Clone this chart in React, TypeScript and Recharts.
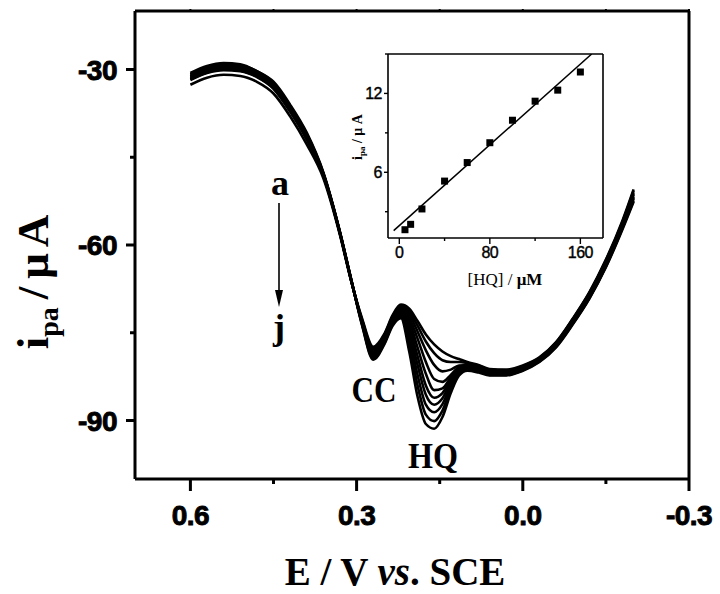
import React from 'react';
import { LineChart, Line, XAxis, YAxis, ComposedChart } from 'recharts';

// potential (V vs. SCE), shared by all DPV curves
const potential = [
  0.6, 0.57, 0.54, 0.51, 0.48, 0.45, 0.42, 0.39, 0.36, 0.33, 0.31, 0.29, 0.27, 0.25, 0.235, 0.22,
  0.205, 0.19, 0.175, 0.16, 0.145, 0.13, 0.115, 0.1, 0.08, 0.06, 0.03, 0.0, -0.03, -0.06, -0.09,
  -0.12, -0.15, -0.18, -0.2,
];

// i_pa (µA) for curves a..j
const curveA = [
  -32.6, -31.4, -30.9, -31.1, -32.1, -34.1, -38.0, -42.8, -48.6, -58.3, -66.1, -72.6, -77.4, -75.2, -72.0, -70.2,
  -70.9, -73.0, -75.3, -77.0, -78.2, -79.0, -79.5, -80.0, -80.5, -81.2, -81.3, -80.6, -79.2, -76.6, -72.6,
  -68.1, -62.5, -55.8, -50.5,
];
const curveB = [
  -31.8, -30.6, -30.1, -30.3, -31.3, -33.3, -37.2, -42.0, -48.2, -58.1, -66.0, -72.8, -77.7, -75.4, -72.2, -70.4,
  -71.3, -73.8, -76.5, -78.5, -79.7, -80.0, -80.0, -80.2, -80.6, -81.3, -81.4, -80.7, -79.3, -76.7, -72.7,
  -68.2, -62.6, -56.0, -50.7,
];
const curveC = [
  -31.7, -30.5, -30.0, -30.2, -31.2, -33.2, -37.1, -41.9, -48.1, -58.1, -66.0, -73.0, -77.9, -75.6, -72.4, -70.6,
  -71.8, -74.8, -78.0, -80.5, -81.6, -81.3, -80.6, -80.5, -80.8, -81.4, -81.5, -80.8, -79.4, -76.8, -72.8,
  -68.3, -62.8, -56.1, -51.0,
];
const curveD = [
  -31.5, -30.3, -29.8, -30.0, -31.0, -33.0, -36.9, -41.7, -48.1, -58.0, -66.0, -73.1, -78.2, -75.8, -72.6, -70.9,
  -72.4, -76.0, -80.0, -82.9, -83.4, -82.2, -80.9, -80.7, -81.0, -81.6, -81.6, -80.9, -79.5, -76.9, -72.9,
  -68.5, -62.9, -56.3, -51.2,
];
const curveE = [
  -31.4, -30.2, -29.7, -29.9, -30.9, -32.9, -36.8, -41.6, -48.0, -58.0, -65.9, -73.2, -78.4, -76.0, -72.8, -71.1,
  -73.0, -77.5, -82.0, -84.8, -84.5, -82.6, -81.1, -80.9, -81.1, -81.7, -81.7, -81.0, -79.6, -77.0, -73.0,
  -68.6, -63.1, -56.5, -51.4,
];
const curveF = [
  -31.2, -30.0, -29.5, -29.7, -30.7, -32.7, -36.6, -41.4, -47.9, -57.9, -65.9, -73.3, -78.7, -76.2, -73.0, -71.4,
  -73.8, -79.0, -84.0, -86.1, -85.3, -83.0, -81.4, -81.0, -81.2, -81.8, -81.9, -81.1, -79.6, -77.1, -73.2,
  -68.7, -63.2, -56.6, -51.7,
];
const curveG = [
  -31.1, -29.9, -29.4, -29.6, -30.6, -32.6, -36.5, -41.3, -47.8, -57.9, -65.9, -73.4, -78.9, -76.4, -73.2, -71.6,
  -74.6, -80.5, -85.6, -87.3, -86.2, -83.4, -81.6, -81.1, -81.3, -81.9, -82.0, -81.2, -79.7, -77.2, -73.3,
  -68.8, -63.4, -56.8, -51.9,
];
const curveH = [
  -30.9, -29.7, -29.2, -29.4, -30.4, -32.4, -36.3, -41.1, -47.8, -57.9, -65.8, -73.5, -79.1, -76.6, -73.4, -71.9,
  -75.6, -82.2, -87.3, -88.6, -87.2, -84.0, -81.8, -81.2, -81.5, -82.1, -82.1, -81.3, -79.8, -77.3, -73.4,
  -69.0, -63.5, -57.0, -52.1,
];
const curveI = [
  -30.8, -29.6, -29.1, -29.3, -30.3, -32.3, -36.2, -41.0, -47.7, -57.8, -65.8, -73.6, -79.4, -76.8, -73.6, -72.2,
  -76.8, -84.0, -89.0, -90.1, -88.3, -84.6, -82.0, -81.3, -81.6, -82.2, -82.2, -81.4, -79.9, -77.4, -73.5,
  -69.1, -63.7, -57.1, -52.4,
];
const curveJ = [
  -30.6, -29.4, -28.9, -29.1, -30.3, -32.1, -36.0, -40.8, -47.6, -57.8, -65.8, -73.8, -79.6, -77.0, -73.8, -72.5,
  -78.2, -85.9, -90.6, -91.4, -89.4, -85.3, -82.3, -81.5, -81.8, -82.3, -82.3, -81.5, -80.0, -77.5, -73.6,
  -69.2, -63.8, -57.3, -52.6,
];

const curveKeys = ['a', 'b', 'c', 'd', 'e', 'f', 'g', 'h', 'i', 'j'];
const curves = [curveA, curveB, curveC, curveD, curveE, curveF, curveG, curveH, curveI, curveJ];

// inset: calibration of HQ
const hqConc = [5, 10, 20, 40, 60, 80, 100, 120, 140, 160];
const hqCurrent = [1.63, 2.04, 3.21, 5.33, 6.74, 8.25, 9.96, 11.41, 12.25, 13.63];
const fitConc = [-5, 170];
const fitCurrent = [1.56, 15.0];

const mainXTicks = [0.6, 0.45, 0.3, 0.15, 0, -0.15, -0.3];
const mainXMajor = [0.6, 0.3, 0, -0.3];
const mainYTicks = [-90, -75, -60, -45, -30];
const mainYMajor = [-90, -60, -30];
const insetXTicks = [0, 40, 80, 120, 160];
const insetXMajor = [0, 80, 160];
const insetYTicks = [3, 6, 9, 12, 15];
const insetYMajor = [6, 12];

const W = 720;
const H = 594;
const SANS = '"Liberation Sans", Arial, sans-serif';
const SERIF = '"Liberation Serif", "Times New Roman", serif';

const mainData = potential.map((E, i) => {
  const row: Record<string, number> = { E };
  curveKeys.forEach((k, j) => {
    row[k] = curves[j][i];
  });
  return row;
});
const insetPoints = hqConc.map((x, i) => ({ x, y: hqCurrent[i] }));
const insetFit = fitConc.map((x, i) => ({ x, y: fitCurrent[i] }));

const isMajor = (v: number, majors: number[]) => majors.some((m) => Math.abs(m - v) < 1e-9);

type TickOpts = {
  side: 'bottom' | 'left' | 'top' | 'right';
  majors: number[];
  majorLen: number;
  minorLen: number;
  labels?: boolean;
  offset?: number;
  fontSize?: number;
  fontWeight?: string | number;
  textStroke?: number;
  format?: (v: number) => string;
  width: number;
};

// draws tick line (major/minor length) and label; axis has tickSize=0 so x/y sit on the axis line
function makeTick(o: TickOpts) {
  return (props: any) => {
    const { x, y, payload } = props;
    const v = payload.value;
    const major = isMajor(v, o.majors);
    const len = major ? o.majorLen : o.minorLen;
    const label = o.format ? o.format(v) : String(v);
    let line;
    let text = null;
    if (o.side === 'bottom') {
      line = <line x1={x} y1={y} x2={x} y2={y + len} />;
      if (o.labels && major)
        text = (
          <text x={x} y={y + (o.offset || 0)} textAnchor="middle">
            {label}
          </text>
        );
    } else if (o.side === 'top') {
      line = <line x1={x} y1={y} x2={x} y2={y - len} />;
    } else if (o.side === 'left') {
      line = <line x1={x - len} y1={y} x2={x} y2={y} />;
      if (o.labels && major)
        text = (
          <text x={x - (o.offset || 0)} y={y + (o.fontSize || 0) * 0.36} textAnchor="end">
            {label}
          </text>
        );
    } else {
      line = <line x1={x} y1={y} x2={x + len} y2={y} />;
    }
    const ts = o.textStroke || 0;
    return (
      <g stroke="#000" strokeWidth={o.width}>
        {line}
        {text && (
          <g
            stroke={ts ? '#000' : 'none'}
            strokeWidth={ts}
            fill="#000"
            fontFamily={SANS}
            fontSize={o.fontSize}
            fontWeight={o.fontWeight}
            letterSpacing={-0.5}
          >
            {text}
          </g>
        )}
      </g>
    );
  };
}

const SquareDot = (props: any) => {
  const { cx, cy } = props;
  if (cx == null || cy == null) return null;
  return <rect x={cx - 3.5} y={cy - 3.5} width={7} height={7} fill="#000" />;
};

function MainChart() {
  const axisLine = { stroke: '#000', strokeWidth: 3 };
  return (
    <LineChart
      width={W}
      height={H}
      data={mainData}
      margin={{ top: 10, right: 30, bottom: 114, left: 134 }}
    >
      <XAxis
        dataKey="E"
        type="number"
        domain={[-0.3, 0.7]}
        reversed
        ticks={mainXTicks}
        interval={0}
        height={1}
        tickSize={0}
        tickMargin={0}
        tickLine={false}
        axisLine={axisLine}
        tick={makeTick({
          side: 'bottom', majors: mainXMajor, majorLen: 12, minorLen: 5, labels: true,
          offset: 46, fontSize: 28, fontWeight: 700, textStroke: 0.9, format: (v) => v.toFixed(1), width: 3,
        })}
      />
      <XAxis
        xAxisId="top"
        dataKey="E"
        type="number"
        orientation="top"
        domain={[-0.3, 0.7]}
        reversed
        ticks={mainXTicks}
        interval={0}
        height={1}
        tickSize={0}
        tickMargin={0}
        tickLine={false}
        axisLine={axisLine}
        tick={makeTick({ side: 'top', majors: mainXMajor, majorLen: 2, minorLen: 2, width: 2 })}
      />
      <YAxis
        type="number"
        domain={[-100, -20]}
        ticks={mainYTicks}
        interval={0}
        width={1}
        tickSize={0}
        tickMargin={0}
        tickLine={false}
        axisLine={axisLine}
        tick={makeTick({
          side: 'left', majors: mainYMajor, majorLen: 9, minorLen: 5, labels: true,
          offset: 18, fontSize: 28, fontWeight: 700, textStroke: 0.9, width: 3,
        })}
      />
      <YAxis
        yAxisId="right"
        orientation="right"
        type="number"
        domain={[-100, -20]}
        ticks={mainYTicks}
        interval={0}
        width={1}
        tickSize={0}
        tickMargin={0}
        tickLine={false}
        axisLine={axisLine}
        tick={makeTick({ side: 'right', majors: mainYMajor, majorLen: 2, minorLen: 2, width: 2 })}
      />
      {curveKeys.map((k) => (
        <Line
          key={k}
          dataKey={k}
          type="monotone"
          stroke="#000"
          strokeWidth={2.6}
          dot={false}
          isAnimationActive={false}
        />
      ))}
    </LineChart>
  );
}

function InsetChart() {
  const axisLine = { stroke: '#000', strokeWidth: 1.6 };
  return (
    <ComposedChart width={W} height={H} margin={{ top: 53, right: 116, bottom: 355, left: 387 }}>
      <XAxis
        dataKey="x"
        type="number"
        domain={[-10, 180]}
        ticks={insetXTicks}
        interval={0}
        height={1}
        tickSize={0}
        tickMargin={0}
        tickLine={false}
        axisLine={axisLine}
        allowDataOverflow
        tick={makeTick({
          side: 'bottom', majors: insetXMajor, majorLen: 6, minorLen: 3, labels: true,
          offset: 20, fontSize: 16, fontWeight: 400, textStroke: 0.4, width: 1.4,
        })}
      />
      <XAxis
        xAxisId="top"
        dataKey="x"
        type="number"
        orientation="top"
        domain={[-10, 180]}
        ticks={insetXTicks}
        interval={0}
        height={1}
        tickSize={0}
        tickMargin={0}
        tickLine={false}
        axisLine={axisLine}
        tick={makeTick({ side: 'top', majors: insetXMajor, majorLen: 2, minorLen: 2, width: 1.2 })}
      />
      <YAxis
        type="number"
        domain={[1, 15]}
        ticks={insetYTicks}
        interval={0}
        width={1}
        tickSize={0}
        tickMargin={0}
        tickLine={false}
        axisLine={axisLine}
        allowDataOverflow
        tick={makeTick({
          side: 'left', majors: insetYMajor, majorLen: 4, minorLen: 3, labels: true,
          offset: 6, fontSize: 16, fontWeight: 400, textStroke: 0.4, width: 1.4,
        })}
      />
      <YAxis
        yAxisId="right"
        orientation="right"
        type="number"
        domain={[1, 15]}
        ticks={insetYTicks}
        interval={0}
        width={1}
        tickSize={0}
        tickMargin={0}
        tickLine={false}
        axisLine={axisLine}
        tick={makeTick({ side: 'right', majors: insetYMajor, majorLen: 2, minorLen: 2, width: 1.2 })}
      />
      <Line
        data={insetFit}
        dataKey="y"
        type="linear"
        stroke="#000"
        strokeWidth={1.5}
        dot={false}
        isAnimationActive={false}
      />
      <Line
        data={insetPoints}
        dataKey="y"
        type="linear"
        stroke="none"
        dot={<SquareDot />}
        isAnimationActive={false}
      />
    </ComposedChart>
  );
}

function Annotations() {
  return (
    <svg width={W} height={H} style={{ position: 'absolute', left: 0, top: 0, pointerEvents: 'none' }}>
      <g fontFamily={SERIF} fontWeight={700} fill="#000">
        {/* main axis titles */}
        <text x={395} y={585} fontSize={39} textAnchor="middle">
          E / V <tspan fontStyle="italic">vs</tspan>. SCE
        </text>
        <text transform="translate(48, 282) rotate(-90)" fontSize={45} textAnchor="middle">
          i<tspan fontSize={28} dy={10}>pa</tspan>
          <tspan dy={-10} dx={8}>/</tspan>
          <tspan dx={8}>μ</tspan>
          <tspan dx={6}>A</tspan>
        </text>
        {/* peak labels */}
        <text x={280} y={195} fontSize={36} textAnchor="middle">a</text>
        <text x={279} y={339} fontSize={36} textAnchor="middle">j</text>
        <text x={374} y={402} fontSize={36} textAnchor="middle" textLength={45} lengthAdjust="spacingAndGlyphs">CC</text>
        <text x={433} y={468} fontSize={35} textAnchor="middle" textLength={50} lengthAdjust="spacingAndGlyphs">HQ</text>
        {/* inset titles */}
        <text x={505} y={285} fontSize={17} fontWeight={400} textAnchor="middle">
          [HQ] / <tspan fontWeight={700}>μM</tspan>
        </text>
        <text transform="translate(362, 137) rotate(-90)" fontSize={14} textAnchor="middle">
          i<tspan fontSize={9} dy={3}>pa</tspan>
          <tspan dy={-3}> / μ A</tspan>
        </text>
      </g>
      <line x1={279} y1={203} x2={279} y2={292} stroke="#000" strokeWidth={1.6} />
      <polygon points="275,290 283,290 279,307" fill="#000" />
    </svg>
  );
}

export default function App() {
  return (
    <div style={{ position: 'absolute', left: 0, top: 0, width: W, height: H, background: '#fff' }}>
      <div style={{ position: 'absolute', left: 0, top: 0 }}>
        <MainChart />
      </div>
      <div style={{ position: 'absolute', left: 0, top: 0 }}>
        <InsetChart />
      </div>
      <Annotations />
    </div>
  );
}
